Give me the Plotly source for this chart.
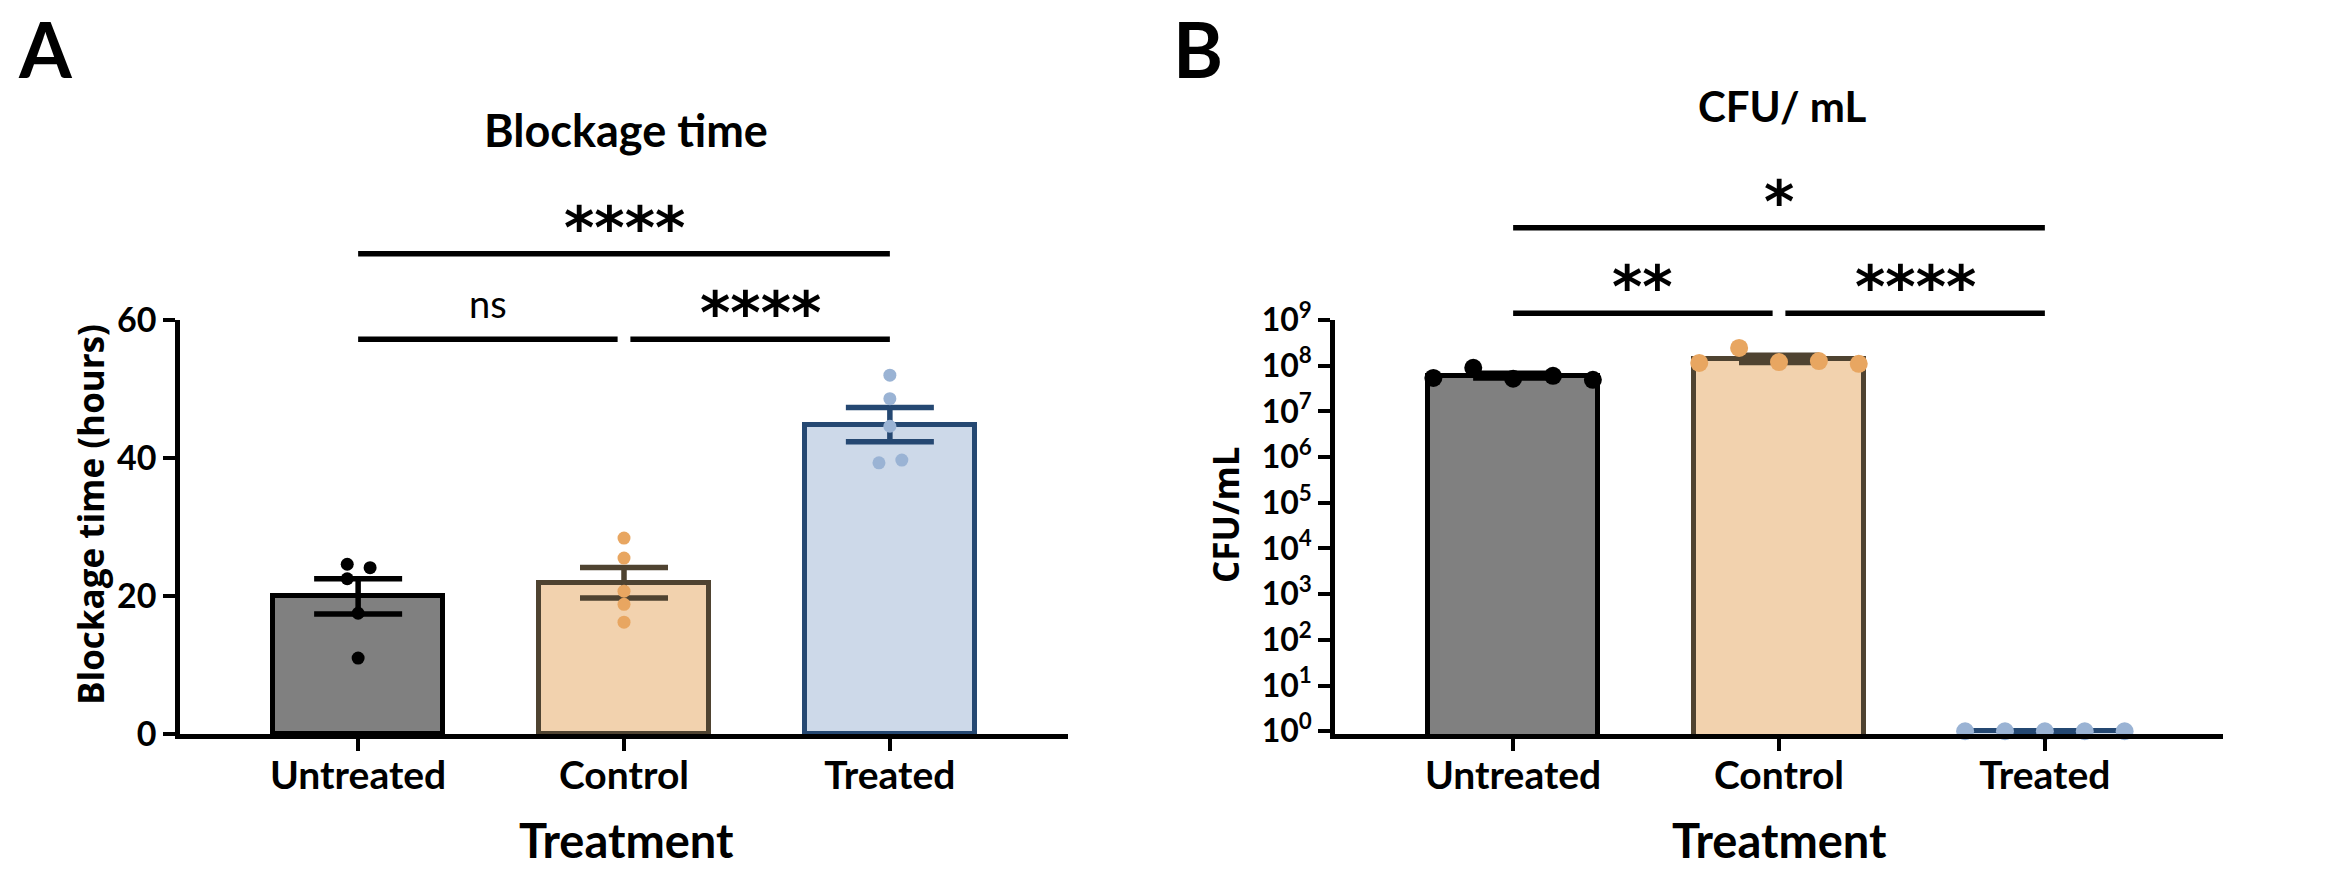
import numpy as np
import plotly.graph_objects as go

# --- data ---
groups = ["Untreated", "Control", "Treated"]

blockage_untreated = [24.6, 24.1, 22.5, 17.5, 11.0]
blockage_control = [28.4, 25.5, 20.7, 18.8, 16.2]
blockage_treated = [52.0, 48.6, 44.6, 39.3, 39.7]

cfu_untreated = [5.4e7, 9.0e7, 5.2e7, 6.0e7, 4.9e7]
cfu_control = [1.15e8, 2.45e8, 1.2e8, 1.26e8, 1.1e8]
cfu_treated = [1, 1, 1, 1, 1]

y_ticks_a = [0, 20, 40, 60]
y_ticks_b = [10 ** k for k in range(10)]
y_ticktext_b = ["10<sup>%d</sup>" % k for k in range(10)]

# significance brackets: (from group, to group, label)
sig_a = [(0, 1, "ns"), (1, 2, "****"), (0, 2, "****")]
sig_b = [(0, 1, "**"), (1, 2, "****"), (0, 2, "*")]

# --- layout / style ---
W, H = 2331, 896
FONT = "Lato"
STAR_FONT = "DejaVu Sans"

fills = ["#808080", "#F2D2AE", "#CDD9E9"]
edges = ["#000000", "#4F4331", "#254872"]
dots = ["#000000", "#E8A661", "#9AB3D4"]

# small sideways nudges so overlapping dots in A stay visible
jitter_a = [[-0.041, 0.045, -0.041, 0, 0], [0, 0, 0, 0, 0], [0, 0, 0, -0.041, 0.045]]
spread_b = [-0.30, -0.15, 0, 0.15, 0.30]

BAR_W = 0.64
X_RANGE = [-0.67, 2.67]
A_RANGE = [0, 60]
B_RANGE = [-0.06, 9]          # log10 units
A_LEVELS = [57.2, 57.2, 69.6]  # bracket heights, hours
B_LEVELS = [9.15, 9.15, 11.02]  # bracket heights, log10


def px(x):
    return x / W


def py(y):
    return 1 - y / H


XA = [px(180), px(1068)]
XB = [px(1335), px(2223)]
YD = [py(734), py(320)]


def to_paper(v, rng):
    return YD[0] + (v - rng[0]) / (rng[1] - rng[0]) * (YD[1] - YD[0])


fig = go.Figure()

panels = [
    ("x", "y", [blockage_untreated, blockage_control, blockage_treated], jitter_a, 13, 44),
    ("x2", "y2", [cfu_untreated, cfu_control, cfu_treated], [spread_b] * 3, 18, 40),
]

for xax, yax, values, offsets, msize, capw in panels:
    for i, g in enumerate(groups):
        vals = np.array(values[i], dtype=float)
        mean = vals.mean()
        sem = vals.std(ddof=1) / np.sqrt(len(vals))
        fig.add_trace(go.Bar(
            x=[i], y=[mean], width=BAR_W, xaxis=xax, yaxis=yax,
            marker=dict(color=fills[i], line=dict(color=edges[i], width=5)),
            error_y=dict(type="data", array=[sem], visible=True,
                         color=edges[i], thickness=5.5, width=capw),
            showlegend=False, hoverinfo="skip",
        ))
    for i, g in enumerate(groups):
        fig.add_trace(go.Scatter(
            x=[i + o for o in offsets[i]], y=values[i], mode="markers",
            xaxis=xax, yaxis=yax, cliponaxis=False,
            marker=dict(color=dots[i], size=msize, line=dict(width=0)),
            showlegend=False, name=g,
        ))

axis_common = dict(
    showline=True, linecolor="black", linewidth=4.5, mirror=False,
    ticks="outside", ticklen=12, tickwidth=4, tickcolor="black",
    showgrid=False, zeroline=False, fixedrange=True, automargin=False,
)


def tf(size):
    return dict(family=FONT, size=size, color="black", weight="bold")


fig.update_layout(
    template="none",
    width=W, height=H,
    margin=dict(l=0, r=0, t=0, b=0, pad=0),
    paper_bgcolor="white", plot_bgcolor="white",
    bargap=0, barmode="overlay",
    font=dict(family=FONT, color="black"),
    xaxis=dict(domain=XA, anchor="y", range=X_RANGE, tickvals=[0, 1, 2], ticktext=groups,
               tickfont=tf(39), ticklabelstandoff=-9, **axis_common),
    yaxis=dict(domain=YD, anchor="x", range=A_RANGE, tickvals=y_ticks_a,
               tickfont=tf(34), **axis_common),
    xaxis2=dict(domain=XB, anchor="y2", range=X_RANGE, tickvals=[0, 1, 2], ticktext=groups,
                tickfont=tf(39), ticklabelstandoff=-9, **axis_common),
    yaxis2=dict(domain=YD, anchor="x2", type="log", range=B_RANGE,
                tickvals=y_ticks_b, ticktext=y_ticktext_b,
                tickfont=tf(32), **axis_common),
)

ann = []


def text(x, y, s, size, family=FONT, bold=True, **kw):
    ann.append(dict(x=x, y=y, xref=kw.pop("xref", "paper"), yref="paper", text=("<b>%s</b>" % s) if bold else s,
                    showarrow=False, font=dict(family=family, size=size, color="black"),
                    xanchor=kw.pop("xanchor", "center"), yanchor=kw.pop("yanchor", "middle"), **kw))


# panel letters and titles
text(px(16), py(48), "A", 76, xanchor="left")
text(px(1171), py(48), "B", 76, xanchor="left")
text(px(626), py(130), "Blockage time", 45)
text(px(1782), py(106), "CFU/ mL", 42)

# axis titles
text(px(626), py(840), "Treatment", 47)
text(px(1779), py(840), "Treatment", 47)
text(px(90), py(515), "Blockage time (hours)", 35, family="Open Sans", textangle=-90)
text(px(1225), py(515), "CFU/mL", 35, family="Open Sans", textangle=-90)

shapes = []
GAP = 0.024
for xref, sigs, levels, rng in [("x", sig_a, A_LEVELS, A_RANGE), ("x2", sig_b, B_LEVELS, B_RANGE)]:
    for (g0, g1, lab), lev in zip(sigs, levels):
        yp = to_paper(lev, rng)
        x0, x1 = g0, g1
        if g1 - g0 == 1:
            x0 = g0 + (GAP if g0 == 1 else 0)
            x1 = g1 - (GAP if g1 == 1 else 0)
        shapes.append(dict(type="line", xref=xref, yref="paper", x0=x0, x1=x1, y0=yp, y1=yp,
                           line=dict(color="black", width=5.5)))
        if lab == "ns":
            text((x0 + x1) / 2, yp, "ns", 38, bold=False, xref=xref, yshift=36)
        else:
            text((x0 + x1) / 2, yp, lab, 58, family=STAR_FONT, xref=xref, yshift=26)

fig.update_layout(annotations=ann, shapes=shapes)

fig.write_html("out.html", config={"displayModeBar": False},
               post_script="document.body.style.margin='0';")
